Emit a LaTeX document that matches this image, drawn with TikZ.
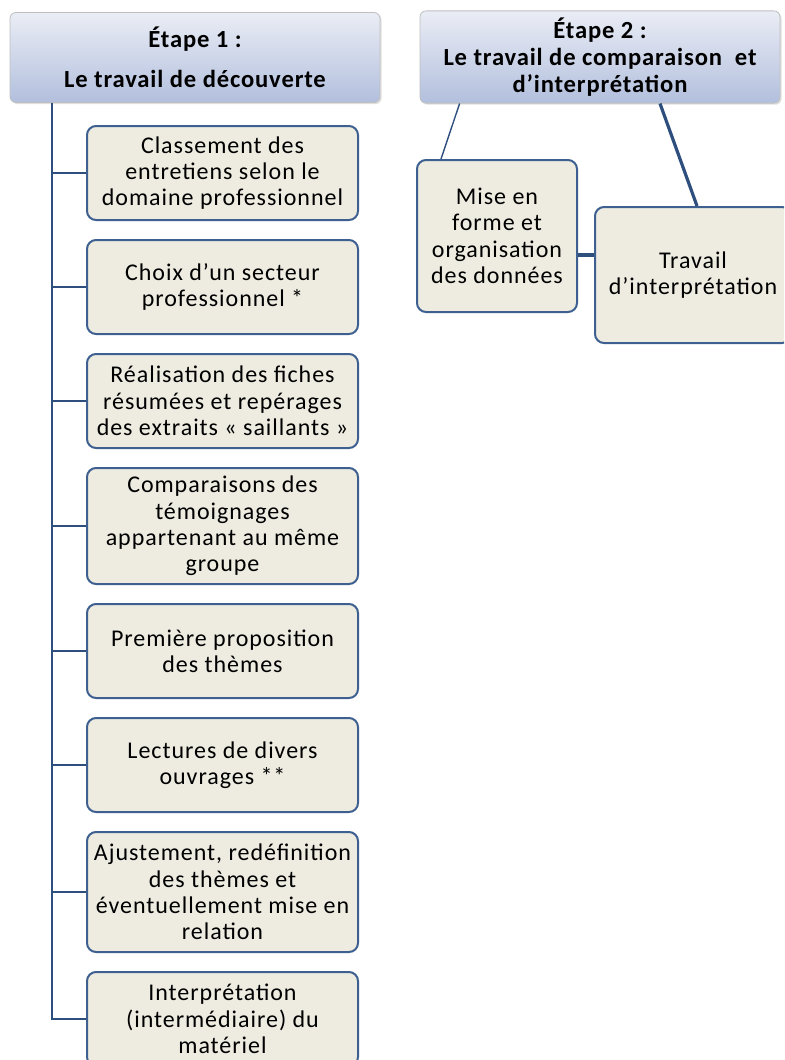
\documentclass[tikz,border=0pt]{standalone}
\usepackage{fontspec}
\setmainfont{Carlito}
\newfontfamily\boxfont[LetterSpace=4]{Carlito}
\newfontfamily\headfont[LetterSpace=3.5]{Carlito}
\usepackage{tikz}
\usetikzlibrary{positioning,shadows}
\definecolor{boxfill}{HTML}{EEECE1}
\definecolor{boxline}{HTML}{3E6090}
\definecolor{lnk}{HTML}{2E4F7E}
\definecolor{headtop}{HTML}{EAEDF5}
\definecolor{headbot}{HTML}{B2BFDD}
\tikzset{head/.style={rectangle, rounded corners=3pt, draw=black!25, thin,
            top color=headtop, bottom color=headbot, align=center,
            font=\headfont\fontsize{12.3}{13.6}\selectfont\bfseries, minimum height=45pt,
            drop shadow={opacity=0.25, shadow xshift=0.8pt, shadow yshift=-0.8pt}},
         etap/.style={rectangle, rounded corners=4.5pt, draw=boxline, line width=1pt,
            fill=boxfill, align=center, inner sep=1pt,
            minimum width=135.5pt, minimum height=#1,
            font=\boxfont\fontsize{12}{13.2}\selectfont},
         etap/.default=47pt,
         lnk/.style={draw=lnk, line width=1pt}}

\begin{document}
\begin{tikzpicture}[x=0.5pt, y=-0.5pt, node distance=9pt]
\useasboundingbox (0,0) rectangle (784,1060);
\clip (0,0) rectangle (784,1060);
%% etape 1
\node[head, minimum width=185pt] (e1) at (195,57.5) {Étape 1 :\\[6.5pt] Le travail de découverte};
\node[etap] (b1) at (222.5,173) {Classement des\\ entretiens selon le\\ domaine professionnel};
\node[etap, below=of b1] (b2) {Choix d’un secteur\\ professionnel *};
\node[etap, below=of b2] (b3) {Réalisation des fiches\\ résumées et repérages\\ des extraits « saillants »};
\node[etap=58pt, below=of b3] (b4) {Comparaisons des\\ témoignages\\ appartenant au même\\ groupe};
\node[etap, below=of b4] (b5) {Première proposition\\ des thèmes};
\node[etap, below=of b5] (b6) {Lectures de divers\\ ouvrages **};
\node[etap=60pt, below=of b6] (b7) {Ajustement, redéfinition\\ des thèmes et\\ éventuellement mise en\\ relation};
\node[etap, below=of b7] (b8) {Interprétation\\ (intermédiaire) du\\ matériel};
\coordinate (trunk) at ([xshift=21pt]e1.south west);
\foreach \i in {1,...,8}
  \draw[lnk] (trunk) |- (b\i.west);
%% etape 2
\node[head, minimum width=180pt] (e2) at (600,57) {Étape 2 :\\ Le travail de comparaison~ et\\ d’interprétation};
\node[etap, minimum width=80pt, minimum height=76pt] (mise) at (497,236)
  {Mise en\\ forme et\\ organisation\\ des données};
\node[etap, minimum width=98pt, minimum height=68pt] (trav) at (693,275)
  {Travail\\ d’interprétation};
\draw[draw=lnk, line width=0.7pt] ([xshift=20pt]e2.south west) -- ([xshift=12.5pt]mise.north west);
\draw[draw=lnk, line width=1.6pt] ([xshift=30pt]e2.south) -- ([xshift=2pt]trav.north);
\draw[draw=lnk, line width=1.6pt] ([yshift=-9.5pt]mise.east) -- ([yshift=-9.5pt]mise.east -| trav.west);
\end{tikzpicture}
\end{document}
